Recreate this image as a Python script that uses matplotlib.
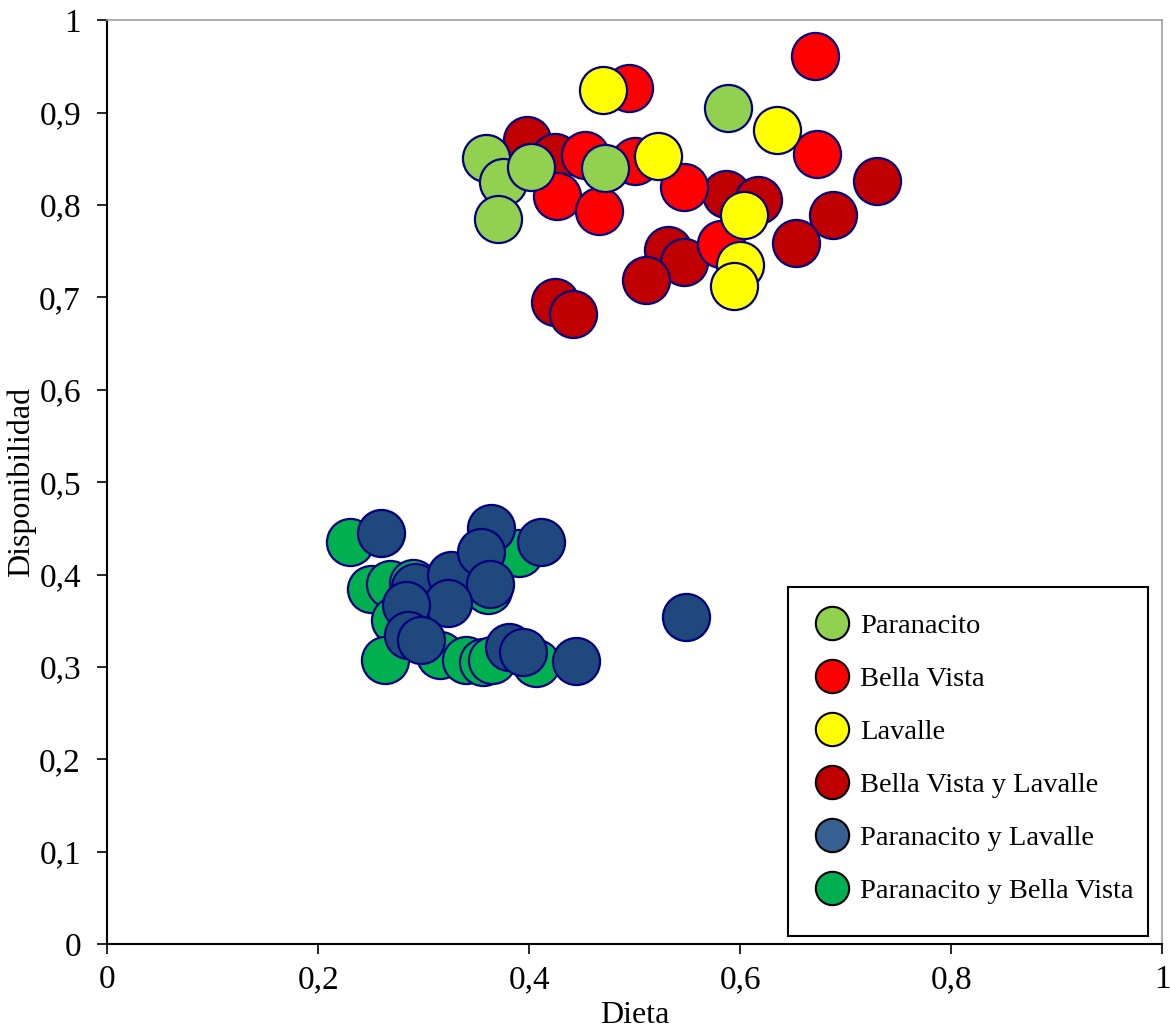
import matplotlib
matplotlib.use("Agg")
import matplotlib.pyplot as plt
from matplotlib.lines import Line2D
from matplotlib.patches import Rectangle

plt.rcParams['font.family'] = ['Liberation Serif', 'DejaVu Serif']

# Data (Dieta, Disponibilidad)
paranacito_x = [0.5885, 0.3586, 0.375, 0.370, 0.402, 0.4715]
paranacito_y = [0.905, 0.8514, 0.825, 0.7846, 0.8412, 0.8406]

bellavista_x = [0.6714, 0.4943, 0.673, 0.4526, 0.500, 0.4263, 0.4661, 0.5468, 0.5823]
bellavista_y = [0.961, 0.9267, 0.8557, 0.8539, 0.8474, 0.8103, 0.7933, 0.8193, 0.7583]

lavalle_x = [0.470, 0.6354, 0.5221, 0.6034, 0.5996, 0.5939]
lavalle_y = [0.9242, 0.8817, 0.8536, 0.7890, 0.7348, 0.7121]

bvl_x = [0.3982, 0.4241, 0.587, 0.617, 0.7293, 0.6881, 0.6525, 0.5316, 0.5468, 0.5111, 0.4241, 0.4415]
bvl_y = [0.8701, 0.852, 0.8124, 0.8052, 0.8258, 0.7890, 0.759, 0.7511, 0.7378, 0.7186, 0.6951, 0.6825]

pl_x = [0.2914, 0.3255, 0.2592, 0.364, 0.3545, 0.4114, 0.3624, 0.3229, 0.2835, 0.285, 0.2977, 0.3804, 0.3937, 0.4445, 0.5487]
pl_y = [0.3864, 0.3994, 0.4445, 0.4505, 0.4246, 0.4354, 0.3896, 0.3687, 0.3669, 0.3344, 0.329, 0.3217, 0.3163, 0.3066, 0.3536]

pbv_x = [0.2298, 0.2504, 0.2677, 0.2898, 0.2724, 0.263, 0.315, 0.3403, 0.356, 0.3652, 0.3908, 0.4066, 0.3605]
pbv_y = [0.4354, 0.3839, 0.3896, 0.3904, 0.3506, 0.3074, 0.3128, 0.3074, 0.3055, 0.3074, 0.4228, 0.3038, 0.3831]

labels = ["Paranacito", "Bella Vista", "Lavalle", "Bella Vista y Lavalle",
          "Paranacito y Lavalle", "Paranacito y Bella Vista"]
colors = ["#92D050", "#FF0000", "#FFFF00", "#C00000", "#1F497D", "#00B050"]
legend_colors = ["#92D050", "#FF0000", "#FFFF00", "#C00000", "#376092", "#00B050"]

xticks = [0, 0.2, 0.4, 0.6, 0.8, 1]
xticklabels = ["0", "0,2", "0,4", "0,6", "0,8", "1"]
yticks = [0, 0.1, 0.2, 0.3, 0.4, 0.5, 0.6, 0.7, 0.8, 0.9, 1]
yticklabels = ["0", "0,1", "0,2", "0,3", "0,4", "0,5", "0,6", "0,7", "0,8", "0,9", "1"]

fig = plt.figure(figsize=(11.7, 10.34), dpi=100)
ax = fig.add_axes([0.0917, 0.087, 0.9015, 0.8934])

series = [
    (pbv_x, pbv_y, colors[5], 2),
    (pl_x, pl_y, colors[4], 3),
    (bvl_x, bvl_y, colors[3], 2),
    (bellavista_x, bellavista_y, colors[1], 3),
    (lavalle_x, lavalle_y, colors[2], 4),
    (paranacito_x, paranacito_y, colors[0], 5),
]
for xs, ys, c, z in series:
    ax.scatter(xs, ys, s=1150, c=c, edgecolors="#000080", linewidths=1.6, zorder=z)

ax.set_xlim(0, 1)
ax.set_ylim(0, 1)
ax.set_xticks(xticks)
ax.set_xticklabels(xticklabels)
ax.set_yticks(yticks)
ax.set_yticklabels(yticklabels)
ax.tick_params(direction="out", length=7, width=1.2, labelsize=24, colors="black")
ax.tick_params(axis="x", pad=8)
ax.tick_params(axis="y", pad=12)
for s in ["left", "bottom"]:
    ax.spines[s].set_color("black")
    ax.spines[s].set_linewidth(1.5)
for s in ["top", "right"]:
    ax.spines[s].set_color("#A0A0A0")
    ax.spines[s].set_linewidth(1.2)

ax.set_xlabel("Dieta", fontsize=23, labelpad=4)
ax.set_ylabel("Disponibilidad", fontsize=23, labelpad=2)

# legend frame
frame = Rectangle((0.6455, 0.0087), 0.3415, 0.3773, transform=ax.transAxes,
                  facecolor="white", edgecolor="black", linewidth=1.5,
                  zorder=9, clip_on=False)
ax.add_patch(frame)

handles = [Line2D([], [], linestyle="none", marker="o", markersize=24,
                  markerfacecolor=c, markeredgecolor="black", markeredgewidth=1.5)
           for c in legend_colors]
leg = ax.legend(handles, labels, loc="upper left", bbox_to_anchor=(0.6664, 0.3585),
                fontsize=20.5, frameon=False, labelspacing=0.95, handletextpad=0.25,
                borderpad=0, handlelength=1.5, borderaxespad=0)
leg.set_zorder(10)

fig.savefig("out.png", dpi=100)
